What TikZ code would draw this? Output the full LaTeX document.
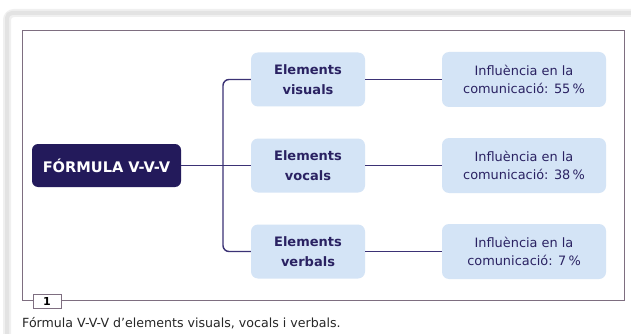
\documentclass[tikz,border=0pt]{standalone}
\usepackage{fontspec}
\setmainfont{DejaVu Sans}
\definecolor{navy}{HTML}{231A5B}
\definecolor{conncol}{HTML}{3B3275}
\definecolor{lightblue}{HTML}{D4E4F6}
\definecolor{boxtext}{HTML}{2A2262}
\definecolor{framecol}{HTML}{7E6E80}
\begin{document}
\begin{tikzpicture}[x=1pt,y=-1pt,
  mainbox/.style={fill=navy, rounded corners=6, minimum width=149, minimum height=43, inner sep=0, text=white, font=\fontsize{14.6}{17}\selectfont\bfseries},
  elembox/.style={fill=lightblue, rounded corners=7, minimum width=114, minimum height=54, inner sep=0, align=center, text=boxtext, font=\fontsize{13}{20}\selectfont\bfseries},
  inflbox/.style={fill=lightblue, rounded corners=7, minimum width=164, minimum height=55, inner sep=0, align=center, text=boxtext, font=\fontsize{12.9}{18}\selectfont},
  conn/.style={draw=conncol, line width=1.4},
  numbox/.style={draw=framecol, fill=white, line width=0.9, minimum width=28, minimum height=14, inner sep=0, font=\fontsize{11}{12}\selectfont\bfseries}
]
\useasboundingbox (0,0) rectangle (631,334);
\fill[white] (0,0) rectangle (631,334);
% shadow of the outer sheet
\draw[line width=8, black!6, rounded corners=7] (7,334) -- (7,13) -- (631,13);
\draw[line width=4, black!11, rounded corners=5] (7,334) -- (7,13) -- (631,13);
% inner frame
\draw[framecol, line width=1] (22,31) rectangle (624,300);
\node[numbox] (num) at (47,301) {1};
\node[anchor=base west, inner sep=0, font=\fontsize{12.6}{14}\selectfont, text=black!85] (cap) at (22,327) {Fórmula V-V-V d’elements visuals, vocals i verbals.};
% nodes
\node[mainbox] (main) at (106.5,165.5) {FÓRMULA V-V-V};
\node[elembox] (e1) at (308,79.5) {Elements\\visuals};
\node[elembox] (e2) at (308,165.5) {Elements\\vocals};
\node[elembox] (e3) at (308,251.5) {Elements\\verbals};
\node[inflbox] (i1) at (524,79.5) {Influència en la\\comunicació: 55\,\%};
\node[inflbox] (i2) at (524,165.5) {Influència en la\\comunicació: 38\,\%};
\node[inflbox] (i3) at (524,251.5) {Influència en la\\comunicació: 7\,\%};
% connectors
\coordinate (trunk) at (223,165.5);
\draw[conn] (main.east) -- (e2.west);
\draw[conn, rounded corners=6] (e1.west) -- (e1.west -| trunk) -- (e3.west -| trunk) -- (e3.west);
\draw[conn] (e1.east) -- (i1.west);
\draw[conn] (e2.east) -- (i2.west);
\draw[conn] (e3.east) -- (i3.west);
\end{tikzpicture}
\end{document}
